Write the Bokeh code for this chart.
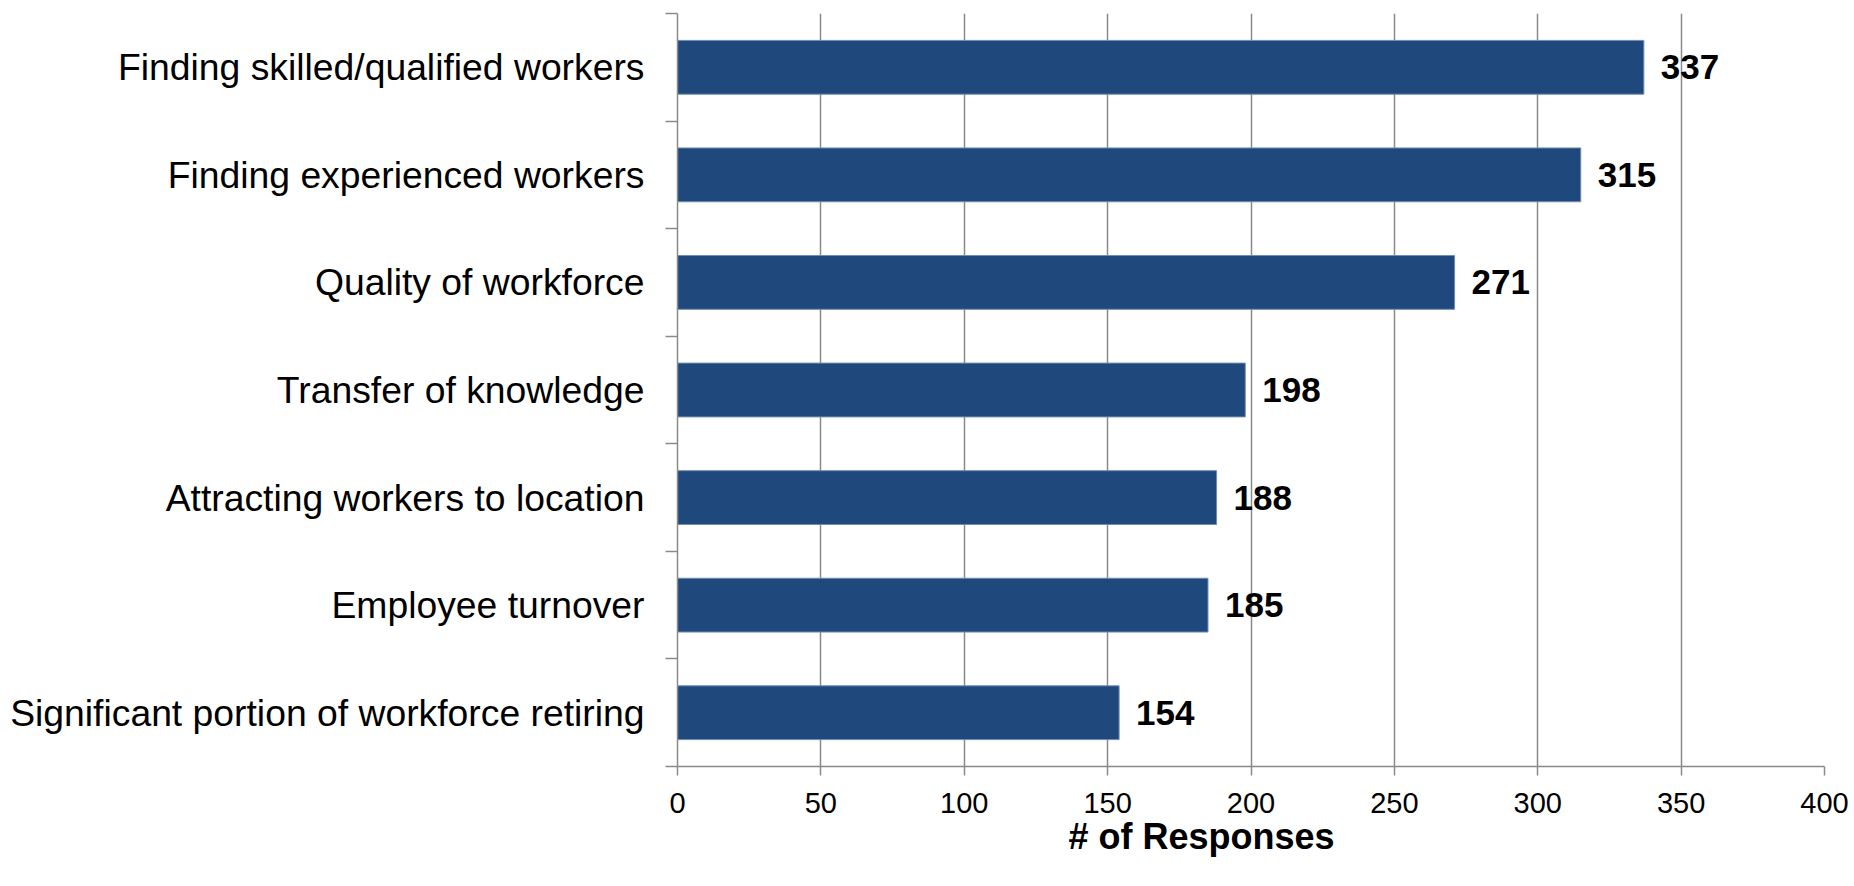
from bokeh.plotting import figure
from bokeh.models import FixedTicker, Range1d, Title, ColumnDataSource
from bokeh.core.properties import value
from bokeh.embed import file_html
from bokeh.resources import INLINE

# Survey: workforce challenges, number of responses (top to bottom)
categories = [
    "Finding skilled/qualified workers",
    "Finding experienced workers",
    "Quality of workforce",
    "Transfer of knowledge",
    "Attracting workers to location",
    "Employee turnover",
    "Significant portion of workforce retiring",
]
responses = [337, 315, 271, 198, 188, 185, 154]
x_ticks = [0, 50, 100, 150, 200, 250, 300, 350, 400]

FONT = "Liberation Sans"
BAR = "#1F497D"
GRID = "#8A8A8A"

n = len(categories)
# first category sits at the top of the chart
ypos = [n - 0.5 - i for i in range(n)]

src = ColumnDataSource(dict(
    y=ypos,
    v=responses,
    lab=[str(v) for v in responses],
))

p = figure(
    width=1854, height=886,
    x_range=Range1d(0, 400), y_range=Range1d(0, n),
    output_backend="svg", toolbar_location=None,
    min_border_left=677, min_border_right=30,
    min_border_top=13, min_border_bottom=120,
)
p.outline_line_color = None
p.background_fill_color = "white"
p.border_fill_color = "white"

p.hbar(y="y", right="v", left=0, height=0.5, source=src,
       fill_color=BAR, line_color="#6F8CB3", line_width=1)

p.text(x="v", y="y", text="lab", source=src, x_offset=17,
       text_baseline="middle", text_align="left",
       text_font=value(FONT), text_font_style="bold",
       text_font_size="35px", text_color="black")

# x axis
p.xaxis.ticker = FixedTicker(ticks=x_ticks)
p.xaxis.axis_line_color = GRID
p.xaxis.axis_line_width = 1.5
p.xaxis.major_tick_line_color = GRID
p.xaxis.major_tick_line_width = 1.5
p.xaxis.major_tick_out = 9
p.xaxis.major_tick_in = 0
p.xaxis.minor_tick_line_color = None
p.xaxis.major_label_text_font = FONT
p.xaxis.major_label_text_font_size = "29px"
p.xaxis.major_label_text_color = "black"
p.xaxis.major_label_standoff = 17

# y axis: labels at band centres, ticks at band boundaries
p.yaxis.ticker = FixedTicker(ticks=ypos, minor_ticks=list(range(n + 1)))
p.yaxis.major_label_overrides = {y: c for y, c in zip(ypos, categories)}
p.yaxis.axis_line_color = GRID
p.yaxis.axis_line_width = 1.5
p.yaxis.major_tick_out = 0
p.yaxis.major_tick_in = 0
p.yaxis.minor_tick_line_color = GRID
p.yaxis.minor_tick_line_width = 1.5
p.yaxis.minor_tick_out = 12
p.yaxis.minor_tick_in = 0
p.yaxis.major_label_text_font = FONT
p.yaxis.major_label_text_font_size = "37.3px"
p.yaxis.major_label_text_color = "black"
p.yaxis.major_label_standoff = 21

p.xgrid.ticker = FixedTicker(ticks=x_ticks)
p.xgrid.grid_line_color = GRID
p.xgrid.grid_line_width = 1.5
p.ygrid.grid_line_color = None

p.add_layout(Title(text="# of Responses", align="left", offset=391,
                   text_font=FONT, text_font_style="bold",
                   text_font_size="36px", text_color="black",
                   standoff=-4), "below")

open("out.html", "w").write(file_html(p, INLINE))
